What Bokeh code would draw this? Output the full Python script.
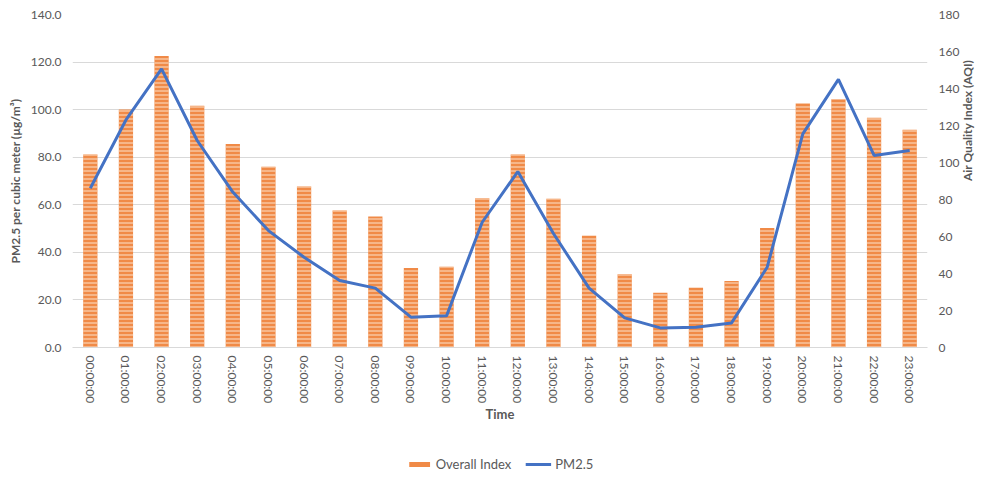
import math
from bokeh.plotting import figure
from bokeh.layouts import column
from bokeh.models import Range1d, LinearAxis, FactorRange, Legend, LegendItem, NumeralTickFormatter, FixedTicker
from bokeh.embed import file_html
from bokeh.resources import INLINE

times = ["00:00:00", "01:00:00", "02:00:00", "03:00:00", "04:00:00", "05:00:00",
         "06:00:00", "07:00:00", "08:00:00", "09:00:00", "10:00:00", "11:00:00",
         "12:00:00", "13:00:00", "14:00:00", "15:00:00", "16:00:00", "17:00:00",
         "18:00:00", "19:00:00", "20:00:00", "21:00:00", "22:00:00", "23:00:00"]
overall_index = [81.1, 100.1, 122.6, 101.6, 85.6, 76.0, 67.7, 57.6, 55.1, 33.4, 33.9, 62.8,
                 81.1, 62.5, 47.0, 30.8, 23.0, 25.1, 28.0, 50.2, 102.6, 104.4, 96.6, 91.5]
pm25 = [86.1, 123.0, 150.6, 111.9, 84.0, 63.2, 48.8, 36.2, 32.1, 16.4, 17.1, 67.7,
        95.1, 61.6, 32.1, 16.0, 10.6, 11.0, 13.3, 43.4, 115.5, 144.9, 103.8, 106.5]
left_ticks = [0, 20, 40, 60, 80, 100, 120, 140]
right_ticks = [0, 20, 40, 60, 80, 100, 120, 140, 160, 180]

FONT = "Lato"
GRAY = "#595959"
BAR_STYLE = dict(fill_color="#F08A47", line_color=None, hatch_pattern="horizontal_line",
                 hatch_color="#FBD3B6", hatch_alpha=0.8, hatch_scale=4, hatch_weight=1.5)
LINE_STYLE = dict(line_color="#4472C4", line_width=3)

p = figure(width=985, height=447, x_range=FactorRange(*times, range_padding=0),
           y_range=Range1d(0, 140), output_backend="svg", toolbar_location=None,
           min_border_left=72, min_border_right=53, min_border_top=14, min_border_bottom=100)
p.outline_line_color = None
p.extra_y_ranges = {"aqi": Range1d(0, 180)}

bars = p.vbar(x=times, top=overall_index, width=0.4, **BAR_STYLE)
line = p.line(x=times, y=pm25, y_range_name="aqi", **LINE_STYLE)

ya = p.yaxis[0]
ya.ticker = FixedTicker(ticks=left_ticks)
ya.formatter = NumeralTickFormatter(format="0.0")
ya.axis_label = "PM2.5 per cubic meter (µg/m³)"

ra = LinearAxis(y_range_name="aqi", ticker=FixedTicker(ticks=right_ticks),
                axis_label="Air Quality Index (AQI)")
p.add_layout(ra, "right")

for ax in [ya, ra]:
    ax.axis_line_color = None
    ax.major_tick_line_color = None
    ax.minor_tick_line_color = None
    ax.major_label_text_font = FONT
    ax.major_label_text_font_size = "12px"
    ax.major_label_text_color = GRAY
    ax.axis_label_text_font = FONT
    ax.axis_label_text_font_size = "12px"
    ax.axis_label_text_font_style = "bold"
    ax.axis_label_text_color = GRAY
ra.axis_label_orientation = math.pi / 2

xa = p.xaxis[0]
xa.axis_label = "Time"
xa.axis_line_color = "#D9D9D9"
xa.major_tick_line_color = None
xa.minor_tick_line_color = None
xa.major_label_orientation = -math.pi / 2
xa.major_label_text_font = FONT
xa.major_label_text_font_size = "12px"
xa.major_label_text_color = GRAY
xa.axis_label_text_font = FONT
xa.axis_label_text_font_size = "13px"
xa.axis_label_text_font_style = "bold"
xa.axis_label_text_color = GRAY
xa.major_label_standoff = 2
xa.axis_label_standoff = 0

p.xgrid.grid_line_color = None
p.ygrid.grid_line_color = "#D9D9D9"
p.ygrid.ticker = FixedTicker(ticks=left_ticks)

# legend strip below the chart (proxy glyphs kept far outside the visible range)
lf = figure(width=985, height=34, x_range=Range1d(0, 1), y_range=Range1d(0, 1),
            output_backend="svg", toolbar_location=None,
            min_border_left=0, min_border_right=0, min_border_top=0, min_border_bottom=0)
lf.axis.visible = False
lf.grid.visible = False
lf.outline_line_color = None
lb = lf.vbar(x=[-100], top=[-100], bottom=[-101], width=0.4, fill_color="#F08A47", line_color=None)
ll = lf.line(x=[-100, -99], y=[-100, -100], **LINE_STYLE)
legend = Legend(items=[LegendItem(label="Overall Index", renderers=[lb]),
                       LegendItem(label="PM2.5", renderers=[ll])],
                orientation="horizontal", location="center", margin=0,
                label_text_font=FONT, label_text_font_size="13px", label_text_color=GRAY,
                border_line_color=None, background_fill_alpha=0, padding=2,
                glyph_width=26, glyph_height=6, spacing=14, label_standoff=4)
lf.add_layout(legend, "center")

layout = column(p, lf, spacing=0)
open("out.html", "w").write(file_html(layout, INLINE))
